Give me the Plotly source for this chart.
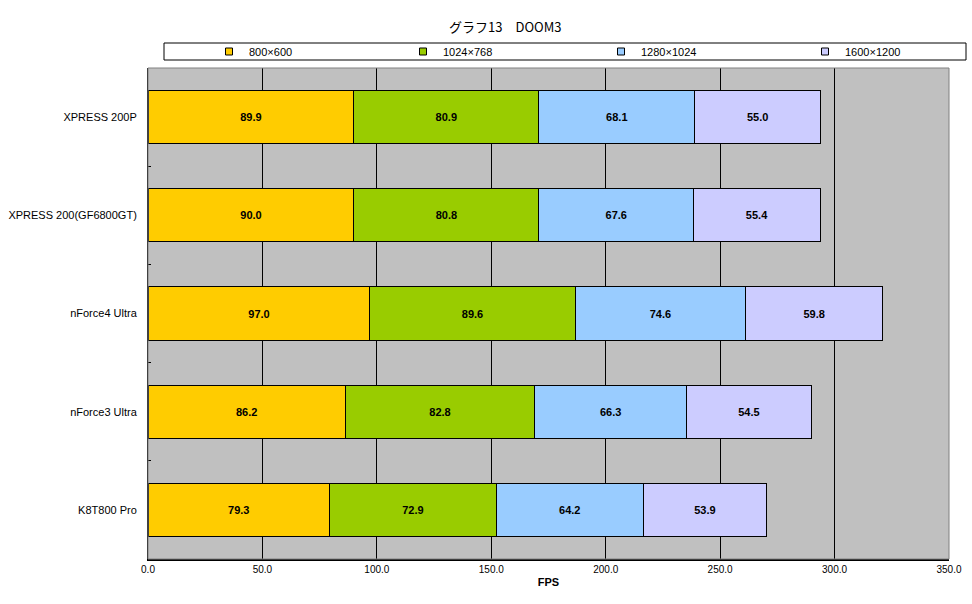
import plotly.graph_objects as go

categories = ["XPRESS 200P", "XPRESS 200(GF6800GT)", "nForce4 Ultra", "nForce3 Ultra", "K8T800 Pro"]
series_names = ["800×600", "1024×768", "1280×1024", "1600×1200"]
s800 = [89.9, 90.0, 97.0, 86.2, 79.3]
s1024 = [80.9, 80.8, 89.6, 82.8, 72.9]
s1280 = [68.1, 67.6, 74.6, 66.3, 64.2]
s1600 = [55.0, 55.4, 59.8, 54.5, 53.9]
colors = ["#FFCC00", "#99CC00", "#99CCFF", "#CCCCFF"]
x_ticks = [0, 50, 100, 150, 200, 250, 300, 350]

FONT = "Liberation Sans, Noto Sans CJK JP, sans-serif"
W, H = 972, 604
L, R, T, B = 148, 23, 68, 45
PW, PH = W - L - R, H - T - B

# legend symbol centres (px) for each series
legend_sym_px = [229, 423, 621, 825]

fig = go.Figure()
for i, (name, vals, col) in enumerate(zip(series_names, [s800, s1024, s1280, s1600], colors)):
    fig.add_trace(go.Bar(
        y=categories, x=vals, name=name, orientation="h",
        marker=dict(color=col, line=dict(color="black", width=1)),
        texttemplate="%{x:.1f}", textposition="inside", insidetextanchor="middle",
        textangle=0, textfont=dict(family=FONT, size=11, color="black", weight="bold"),
        showlegend=False,
    ))

legend_layouts = {}
for i, (name, col) in enumerate(zip(series_names, colors)):
    key = "legend" if i == 0 else f"legend{i + 1}"
    fig.add_trace(go.Scatter(
        x=[None], y=[None], mode="markers", name=name,
        marker=dict(symbol="square", size=7, color=col, line=dict(color="black", width=1)),
        legend=key, showlegend=True, hoverinfo="skip",
    ))
    legend_layouts[key] = dict(
        x=(legend_sym_px[i] - 20 - L) / PW, xanchor="left",
        y=(H - B - 51.5) / PH, yanchor="middle",
        bgcolor="rgba(0,0,0,0)", borderwidth=0,
        font=dict(family=FONT, size=11, color="black"),
    )

fig.update_layout(
    barmode="stack", bargap=0.46,
    width=W, height=H,
    margin=dict(l=L, r=R, t=T, b=B, autoexpand=False),
    paper_bgcolor="white", plot_bgcolor="#C0C0C0",
    font=dict(family=FONT, size=11, color="black"),
    title=dict(text="グラフ13　DOOM3", x=0.446, xref="paper", xanchor="center",
               y=1 - 27 / H, yanchor="middle",
               font=dict(family="Noto Sans CJK JP", size=13, color="black")),
    showlegend=True,
    xaxis=dict(range=[0, 350], tickvals=x_ticks, tickformat=".1f",
               showgrid=True, gridcolor="black", gridwidth=1,
               showline=True, linecolor="black", linewidth=2, ticks="",
               zeroline=False, title=dict(text="FPS", standoff=4, font=dict(size=11, weight="bold")),
               tickfont=dict(size=10)),
    yaxis=dict(categoryorder="array", categoryarray=categories, autorange="reversed",
               showgrid=False, showline=True, linecolor="black", linewidth=1,
               ticks="inside", ticklen=3, tickson="boundaries", tickcolor="black",
               tickfont=dict(size=11), ticklabelstandoff=8),
    shapes=[
        dict(type="rect", xref="paper", yref="paper", x0=0, x1=1, y0=0, y1=1,
             line=dict(color="#808080", width=1), fillcolor="rgba(0,0,0,0)", layer="above"),
        dict(type="rect", xref="paper", yref="paper", x0=(164 - L) / PW, x1=(966 - L) / PW,
             y0=(H - B - 60) / PH, y1=(H - B - 43) / PH,
             line=dict(color="black", width=1), fillcolor="white", layer="below"),
    ],
    **legend_layouts,
)

fig.write_html("out.html")
